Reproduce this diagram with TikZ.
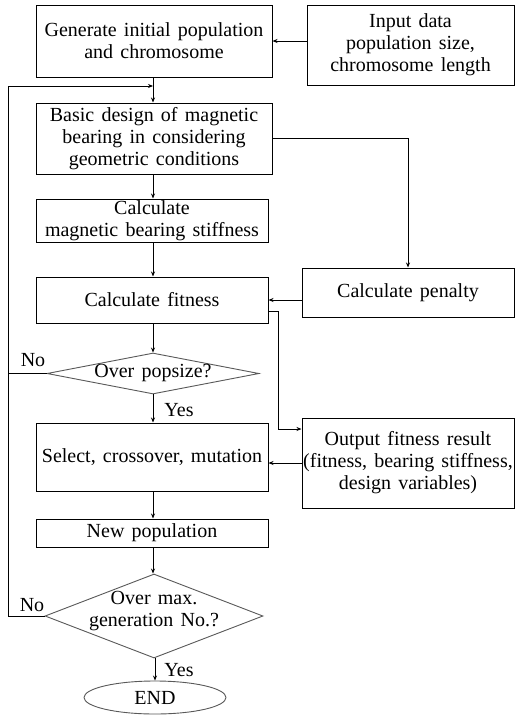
\documentclass[tikz,border=0pt]{standalone}
\usepackage{fontspec}
\setmainfont{Liberation Serif}
\usetikzlibrary{shapes.geometric,arrows.meta}
\newcommand\diagfont{\fontsize{20}{22}\selectfont\spaceskip=7.2pt plus 2pt minus 1pt\relax}
\begin{document}
\begin{tikzpicture}[x=1pt,y=-1pt,
  font=\diagfont,
  box/.style={draw=black,line width=1pt,inner sep=0pt,align=center,rectangle},
  dia/.style={draw=black!65,line width=0.9pt,diamond,inner sep=0pt},
  lbl/.style={inner sep=0pt,align=center},
  arr/.style={line width=0.8pt,-{Stealth[length=5pt,width=4pt]}},
  ln/.style={line width=0.8pt}]
\useasboundingbox (0,0) rectangle (518,715);
\fill[white] (0,0) rectangle (518,715);
\node[box,minimum width=236pt,minimum height=72pt] (b1) at (154,41) {Generate initial population\\and chromosome};
\node[box,minimum width=207pt,minimum height=80pt] (in) at (410.5,45) {Input data\\population size,\\chromosome length};
\node[box,minimum width=236pt,minimum height=71pt] (b2) at (154,138.5) {Basic design of magnetic\\bearing in considering\\geometric conditions};
\node[box,minimum width=232pt,minimum height=43pt] (b3) at (152,220.5) {Calculate\\magnetic bearing stiffness};
\node[box,minimum width=232pt,minimum height=46pt] (b4) at (152,300) {Calculate fitness};
\node[box,minimum width=212pt,minimum height=49pt] (pen) at (408,292.5) {Calculate penalty};
\node[dia,minimum width=212pt,minimum height=41pt] (d1) at (153,373.5) {};
\node[lbl] (d1t) at (153,373) {Over popsize?};
\node[box,minimum width=232pt,minimum height=68pt] (b5) at (152,457) {Select, crossover, mutation};
\node[box,minimum width=212pt,minimum height=90pt] (out) at (408,463) {Output fitness result\\(fitness, bearing stiffness,\\design variables)};
\node[box,minimum width=232pt,minimum height=28pt] (b6) at (152,533) {New population};
\node[dia,minimum width=218pt,minimum height=84pt] (d2) at (154,616) {};
\node[lbl] (d2t) at (154,611) {Over max.\\generation No.?};
\node[draw=black!65,line width=0.9pt,ellipse,inner sep=0pt,minimum width=142pt,minimum height=33pt] (end) at (155,697.5) {END};
\node[lbl] (no1) at (33,360) {No};
\node[lbl] (no2) at (32,605) {No};
\node[lbl] (yes1) at (179,410) {Yes};
\node[lbl] (yes2) at (179,670) {Yes};
\coordinate (mx) at (153,0);
\coordinate (L1) at (8,86);
\coordinate (f1) at (278,311);
\coordinate (f2) at (278,429);
% main flow
\draw[arr] (b1.south -| mx) -- (b2.north -| mx);
\draw[arr] (b2.south -| mx) -- (b3.north -| mx);
\draw[arr] (b3.south -| mx) -- (b4.north -| mx);
\draw[arr] (b4.south -| mx) -- (d1.north -| mx);
\draw[arr] (d1.south -| mx) -- (b5.north -| mx);
\draw[arr] (b5.south -| mx) -- (b6.north -| mx);
\draw[arr] (b6.south -| mx) -- (d2.north -| mx);
\draw[arr] (d2.south -| end) -- (end.north);
% side connections
\draw[arr] (in.west |- b1.east) -- (b1.east);
\draw[arr] (b2.east) -| (pen.north);
\draw[arr] (pen.west |- b4.east) -- (b4.east);
\draw[arr] (b4.east |- f1) -- (f1) -- (f2) -- (f2 -| out.west);
\draw[arr] (out.west) -- (out.west -| b5.east);
% feedback loops
\draw[arr] (d2.west) -| (L1) -- (L1 -| mx);
\draw[ln] (d1.west) -- (d1.west -| L1);
\end{tikzpicture}
\end{document}
